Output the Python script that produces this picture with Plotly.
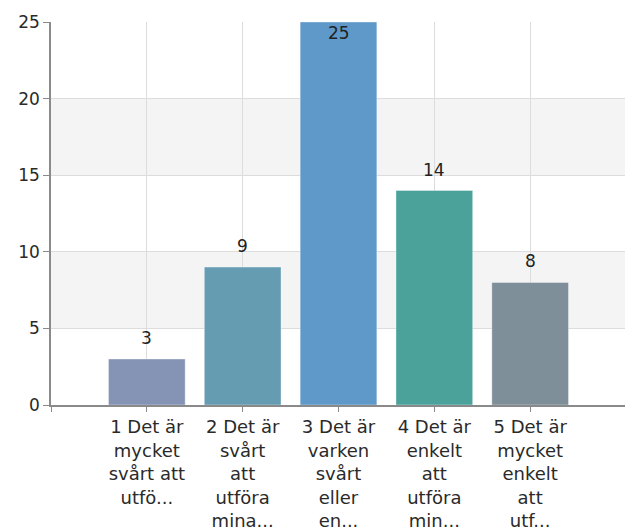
import plotly.graph_objects as go

categories = [
    "1 Det är<br>mycket<br>svårt att<br>utfö...",
    "2 Det är<br>svårt<br>att<br>utföra<br>mina...",
    "3 Det är<br>varken<br>svårt<br>eller<br>en...",
    "4 Det är<br>enkelt<br>att<br>utföra<br>min...",
    "5 Det är<br>mycket<br>enkelt<br>att<br>utf...",
]
values = [3, 9, 25, 14, 8]
colors = ["#8594b5", "#659cb2", "#5f99c9", "#4ba29a", "#7f8f99"]
y_ticks = [0, 5, 10, 15, 20, 25]

positions = list(range(len(categories)))
y_max = max(y_ticks)

fig = go.Figure()
fig.add_trace(go.Bar(
    x=positions,
    y=values,
    width=0.8,
    marker=dict(color=colors, line=dict(width=1, color="rgba(255,255,255,0.35)")),
    hoverinfo="skip",
))

annotations = []
for p, v in zip(positions, values):
    inside = v >= y_max
    annotations.append(dict(
        x=p, y=v, xref="x", yref="y",
        text=str(v), showarrow=False,
        yanchor="middle", xanchor="center",
        yshift=-11 if inside else 21,
        font=dict(family="DejaVu Sans", size=17, color="#222222"),
    ))

tickvals = [-1] + positions + [len(categories)]
ticktext = [""] + categories + [""]

bands = [(5, 10), (15, 20)]
shapes = [
    dict(type="rect", xref="paper", x0=0, x1=1, yref="y", y0=a, y1=b,
         fillcolor="#f4f4f4", line=dict(width=0), layer="below")
    for a, b in bands
]

# page body has an 8px margin, so the figure is offset by 8px
fig.update_layout(
    width=625, height=524,
    margin=dict(l=43, r=7, t=14, b=127),
    paper_bgcolor="white",
    plot_bgcolor="white",
    showlegend=False,
    shapes=shapes,
    annotations=annotations,
    font=dict(family="DejaVu Sans", color="#333333"),
    xaxis=dict(
        range=[-1, len(categories)],
        tickmode="array", tickvals=tickvals, ticktext=ticktext,
        showgrid=True, gridcolor="#dcdcdc", gridwidth=1,
        showline=True, linecolor="#8a8a8a", linewidth=1.5,
        ticks="outside", ticklen=5, tickcolor="#8a8a8a",
        tickfont=dict(family="DejaVu Sans", size=18, color="#2a2a2a"),
        tickangle=0,
        zeroline=False,
        fixedrange=True,
        automargin=False,
    ),
    yaxis=dict(
        range=[0, 25],
        tickmode="array", tickvals=y_ticks,
        showgrid=True, gridcolor="#dcdcdc", gridwidth=1,
        showline=True, linecolor="#8a8a8a", linewidth=1.5,
        ticks="outside", ticklen=6, tickcolor="#8a8a8a",
        tickfont=dict(family="DejaVu Sans", size=17, color="#2a2a2a"),
        zeroline=False,
        fixedrange=True,
        automargin=False,
    ),
)

fig.write_html("out.html")
